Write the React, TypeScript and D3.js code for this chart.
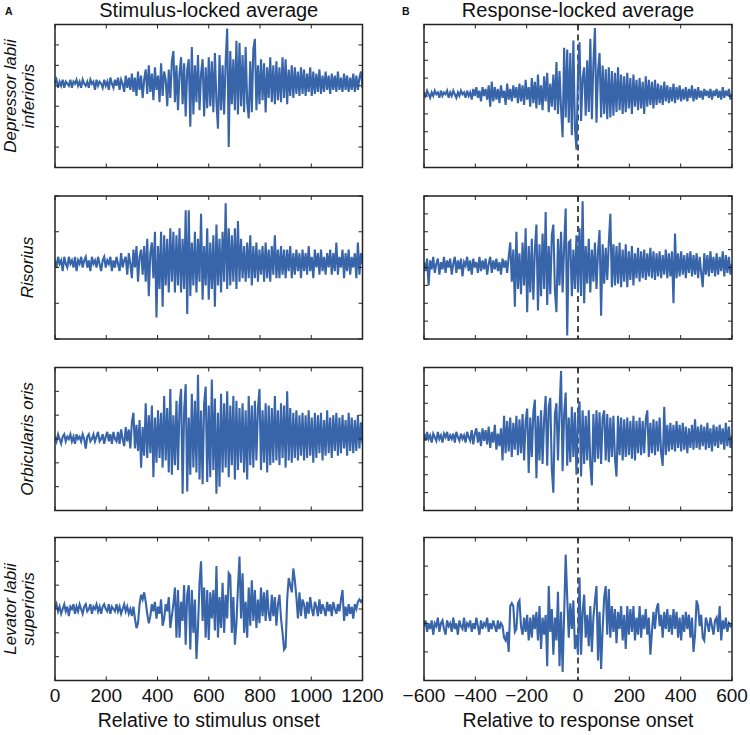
import React from "react";
import * as d3 from "d3";

// ---------- data ----------
const muscles = [["Depressor labii", "inferioris"], ["Risorius"], ["Orbicularis oris"], ["Levator labii", "superioris"]];
const columnTitles = ["Stimulus-locked average", "Response-locked average"];
const columnLetters = ["A", "B"];
const xTitles = ["Relative to stimulus onset", "Relative to response onset"];
const stimTicks = [0, 200, 400, 600, 800, 1000, 1200];
const respTicks = [-600, -400, -200, 0, 200, 400, 600];
const stimStart = 0;
const respStart = -600;
const sampleStep = 6;

// y domains (tick every 10 units)
const stimDomains = [[-40, 30], [-20, 20], [-30, 30], [-30, 30]];
const respDomains = [[-40, 40], [-40, 40], [-40, 40], [-20, 30]];

const stimDLI = [
  1,3,-1,2,0,3,-1,2,1,0, 3,-1,2,1,3,0,2,-1,3,1, 0,2,-1,3,1,2,-2,3,0,2, 1,-1,3,0,2,-2,4,1,-1,3,
  0,4,-2,3,1,-3,5,-1,4,-2, 6,-3,4,-5,7,-2,5,-6,3,8, -4,10,-3,6,-7,9,-2,5,-8,11, -5,7,3,-10,8,-6,12,17,-8,10,
  -12,6,14,-9,11,-15,8,13,-20,19, -14,10,-8,15,-12,6,13,-15,9,-11, 14,-10,12,-13,16,-8,-21,15,-12,10,
  -14,12,28,-30,17,-9,13,-12,22,-14, 21,-10,15,-13,19,-8,-16,12,-13,18, 23,-12,10,-9,13,-7,11,-13,9,-6,
  14,-8,10,-9,12,-7,9,-8,14,-6, 13,-9,8,-5,10,-6,9,-4,7,-5, 9,-4,8,-5,6,-3,9,-5,7,-4,
  6,-3,8,-4,5,-3,7,-2,5,-4, 6,-2,5,-3,7,-2,4,-3,6,-2, 5,-3,4,-2,6,-3,5,-2,4,7, -1,
];
const stimRis = [
  2,0,3,1,2,-1,3,1,0,3, 1,2,0,3,-1,2,1,3,0,2, 3,0,2,-1,3,1,2,0,3,1, -1,2,3,0,2,1,3,-1,2,0,
  3,1,-1,4,0,2,3,-2,4,1, -3,5,0,6,-4,3,5,-2,6,-4, 8,-8,4,7,-3,10,-14,6,-6,10, -11,9,-5,8,-7,11,-4,10,-7,9,
  -5,11,-7,8,-6,16,-13,16,-8,7, -5,10,-7,8,-4,15,-9,6,-5,11, -9,7,-6,9,-11,12,-5,8,-7,10,
  -4,18,-6,11,-5,9,-4,11,-6,13, -4,8,-3,6,-4,7,-3,9,-5,6, -3,7,-4,5,-2,6,-4,7,-3,5,
  -4,6,-2,9,-3,5,-3,6,-2,5, -3,5,-1,6,-3,4,-2,5,-1,4, -3,5,-1,4,-2,6,-1,3,-3,5,
  0,4,-2,5,-1,3,-2,4,0,5, -2,4,-1,7,-2,3,0,5,-3,4, -1,5,-2,3,0,4,-3,7,-2,4, 1,
];
const stimOO = [
  1,-1,2,0,-2,1,2,-1,1,0, 2,-1,1,-2,2,0,1,-1,2,0, -4,1,2,-1,0,2,-1,1,3,-1, 0,2,-2,1,3,-1,2,-2,3,0,
  -1,3,-2,4,0,-3,5,-1,4,-4, 7,11,-4,6,-5,8,-12,5,-7,15, -8,10,-6,14,-16,9,-10,12,-8,11, -12,18,-9,13,-14,21,-15,10,-11,16,
  -13,14,21,-23,12,23,-22,9,-15,19, -12,16,-14,27,-17,12,-19,15,22,-18, 14,-16,25,-13,17,-23,11,-20,19,-14,
  15,-12,20,-16,14,-11,18,-17,16,-13, 13,-10,15,-14,12,-17,18,-11,14,-12, 16,-9,13,21,-13,12,-10,15,-14,14,
  -11,13,-10,18,-9,12,-11,15,-8,14, -12,20,-9,13,-10,11,-8,12,-9,10, -7,11,-9,10,-8,12,-7,9,-10,11,
  -8,10,-6,11,-9,8,-7,12,-6,9, -8,10,-5,11,-7,9,-6,10,-4,8, -7,11,-5,9,-6,8,-5,10,-4,7, -2,
];
const stimLLS = [
  0,2,-1,1,-2,0,2,-1,1,-3, 1,0,2,-2,1,-1,2,0,-2,1, 2,-1,0,2,-2,1,0,2,-1,1, -2,1,2,0,-1,2,-2,1,0,-1,
  2,-1,1,-2,0,2,-1,1,-2,0, -3,1,-4,-8,-6,2,6,4,7,3, -2,-6,-3,2,-1,3,-4,1,-2,4, -7,-4,2,-1,5,-8,-3,2,9,-12,
  8,-12,3,-5,10,-15,6,10,-17,8, -10,4,-21,-8,11,20,-5,9,-12,8, -13,7,-4,8,-9,18,-12,5,-8,11,
  -10,6,-4,15,14,-10,5,-15,-6,9, 22,-4,15,-10,3,-12,9,-7,12,-5, 8,-8,4,-6,9,-3,7,-5,8,-2,
  -5,6,-3,5,-7,2,6,-4,-10,-17, -16,4,13,10,7,17,12,5,-4,7, -3,4,2,-4,3,-2,5,0,-3,3,
  1,-3,4,-2,2,0,-3,3,-1,2, -3,3,0,-2,2,-1,4,8,-5,1, -3,2,-2,1,-4,2,0,3,4,3, 4,
];

const respDLI = [
  2,0,3,1,-1,2,0,3,1,2, -1,3,0,2,1,3,-1,2,0,3, 1,-1,2,0,3,1,2,-1,3,0, 2,-2,4,0,5,-1,3,-3,5,0,
  4,-2,6,-6,8,-3,5,-2,4,-4, 6,-1,3,-5,7,-2,4,-3,6,-1, 5,-4,7,-3,6,-5,9,-2,5,-6, 10,-4,8,-7,12,-5,6,-8,11,-3,
  13,-9,7,-6,12,-8,19,-10,14,-7, -23,27,-12,26,-15,24,-22,31,-18,-30, 12,30,-14,10,16,-11,20,-9,32,-13,
  18,38,-15,14,24,-12,17,-10,15,-13, 16,-12,14,-11,13,-9,16,-8,12,-10, 11,-9,13,-7,10,-10,12,-6,9,-8,
  10,-7,8,-10,11,-6,9,-5,8,-7, 9,-5,7,-4,6,-5,8,-3,6,-4, 5,-3,7,-4,5,-2,6,-3,4,-2,
  5,-3,4,-1,6,-3,4,-2,5,-1, 3,-2,4,0,3,-1,4,-2,3,0, 4,-1,3,-2,5,-1,3,0,4,-2, 1,
];
const respRis = [
  3,-2,5,-10,4,-1,6,-3,2,5, -4,3,-1,6,-3,4,0,5,-4,2, 6,-3,4,-1,5,-5,3,1,6,-2, 4,-4,5,0,3,-3,6,-2,4,-1,
  5,-4,2,6,-3,4,-1,5,-2,3, -4,5,0,4,-3,6,14,-8,10,-22, 20,-12,8,-15,14,-10,22,-25,12,-14, 16,-18,10,24,-24,13,-16,19,-12,31,
  -21,12,-15,18,24,-13,-25,16,-10,20, -14,12,33,-38,14,15,-16,10,-12,18, -14,22,-16,37,-20,12,-9,16,-14,10,
  -8,14,-12,9,21,-27,13,-9,11,-7, 14,30,-11,13,-10,12,-9,14,-11,10, -8,13,-11,9,-7,12,-10,8,-6,11,
  -8,9,-6,10,-7,8,-5,11,-6,9, -7,8,-5,9,-6,7,-4,10,-6,8, -5,9,-20,19,-6,8,-5,9,-4,7,
  -6,8,-3,9,-5,7,-4,8,-6,6, -3,-11,8,-4,7,-5,9,-3,6,-5, 8,-4,6,-2,9,-5,7,-3,6,-4, 2,
];
const respOO = [
  3,-1,4,0,2,-2,3,1,-1,4, 0,2,-2,3,1,4,-1,2,0,3, -2,4,1,-1,3,0,2,-2,4,1, -1,5,-3,3,6,-2,4,-4,6,-1,
  5,-3,7,-5,4,-2,8,-6,3,-4, 6,-12,13,-8,10,-7,12,-10,9,-6, 13,-9,11,-8,14,-12,10,17,-19,12, -10,15,22,-22,13,-12,16,-14,11,24,
  -15,18,23,-17,-30,14,20,-12,16,38, -18,14,26,-15,12,-13,18,-10,15,-20, 12,21,-21,16,-14,13,-12,16,-15,-26,
  14,-13,16,-11,15,-14,12,16,-12,14, -13,12,-10,13,-11,-21,13,-9,12,-12, 11,-10,12,-9,10,-11,13,-12,10,-8,
  12,-9,10,-8,11,16,-10,9,-8,11, -9,10,-7,12,-8,-15,18,-9,8,-7, 9,-6,8,-7,10,-5,8,-7,9,-6,
  7,-8,6,-5,8,-6,11,-5,7,-6, 8,-4,7,-6,9,-5,6,-7,8,-4, 7,-5,8,-3,6,-6,9,-4,7,-5, 2,
];
const respLLS = [
  -1,1,-3,0,-2,1,-4,0,-1,2, -3,0,1,-2,-4,1,-1,0,-3,2, -2,0,-4,1,-1,-2,2,-3,0,-1, 1,-3,0,-2,2,-1,-4,1,-2,0,
  -1,2,-3,0,-2,1,-1,-3,1,-2, 0,-1,-5,-6,-3,-10,6,7,6,-3, -2,7,8,-1,-4,2,-3,3,-6,2, -5,3,-2,4,-6,6,-9,2,-4,3,
  -15,13,-3,5,-11,2,-6,11,-15,4, -17,3,24,9,-5,7,-2,8,-9,-4, -11,16,-11,4,10,-5,3,-8,6,-10,
  2,8,13,-13,4,-16,-2,9,13,-4, 12,-5,6,-3,5,-7,4,-2,6,-6, 3,-9,6,-4,5,-3,6,-6,2,-4,
  6,-5,3,-2,5,-4,2,-11,-3,4, -2,5,7,-1,3,-5,4,-2,5,-3, 3,-4,5,-2,4,-5,2,-6,3,-3,
  4,-2,3,-5,2,-10,-4,8,6,-1, 3,-5,-6,2,0,-3,2,-1,-4,1, 2,-3,6,-6,1,-2,2,-3,0,-1, 0,
];

const stimSeries = [stimDLI, stimRis, stimOO, stimLLS];
const respSeries = [respDLI, respRis, respOO, respLLS];

// ---------- layout ----------
const W = 750, H = 735;
const colX = [[55, 362.5], [424, 732]];
const rowTop = [24.5, 196, 367.5, 537.5];
const panelH = 143;
const lineColor = "#3865aa";
const font = "'Liberation Sans', Arial, Helvetica, sans-serif";
const tickLen = 4;

function fmt(v: number) {
  return v < 0 ? "\u2212" + Math.abs(v) : String(v);
}

function Panel({ col, row }: { col: number; row: number }) {
  const values = col === 0 ? stimSeries[row] : respSeries[row];
  const domain = col === 0 ? stimDomains[row] : respDomains[row];
  const xTicks = col === 0 ? stimTicks : respTicks;
  const start = col === 0 ? stimStart : respStart;
  const [x0, x1] = colX[col];
  const top = rowTop[row];
  const bottom = top + panelH;
  const x = d3.scaleLinear().domain([xTicks[0], xTicks[xTicks.length - 1]]).range([x0, x1]);
  const y = d3.scaleLinear().domain(domain).range([bottom, top]);
  const yTicks = d3.range(domain[0], domain[1] + 1, 10);
  const line = d3
    .line<number>()
    .x((_, i) => x(start + i * sampleStep))
    .y((v) => y(v));
  const clipId = `clip-${col}-${row}`;
  const isLast = row === 3;
  return (
    <g>
      <defs>
        <clipPath id={clipId}>
          <rect x={x0} y={top} width={x1 - x0} height={panelH} />
        </clipPath>
      </defs>
      {col === 1 && (
        <line x1={x(0)} x2={x(0)} y1={top} y2={bottom} stroke="#111" strokeWidth={1.5} strokeDasharray="6,4" />
      )}
      <path d={line(values) || ""} fill="none" stroke={lineColor} strokeWidth={2.1} strokeLinejoin="miter" clipPath={`url(#${clipId})`} />
      {yTicks.map((t) => (
        <g key={"y" + t}>
          <line x1={x0} x2={x0 + tickLen} y1={y(t)} y2={y(t)} stroke="#222" strokeWidth={1} />
          <line x1={x1} x2={x1 - tickLen} y1={y(t)} y2={y(t)} stroke="#222" strokeWidth={1} />
        </g>
      ))}
      {xTicks.map((t) => (
        <g key={"x" + t}>
          <line x1={x(t)} x2={x(t)} y1={top} y2={top + tickLen} stroke="#222" strokeWidth={1} />
          <line x1={x(t)} x2={x(t)} y1={bottom} y2={bottom - tickLen} stroke="#222" strokeWidth={1} />
        </g>
      ))}
      <rect x={x0} y={top} width={x1 - x0} height={panelH} fill="none" stroke="#222" strokeWidth={1.5} />
      {isLast &&
        xTicks.map((t) => (
          <text key={"l" + t} x={x(t)} y={702} textAnchor="middle" fontSize={19} fontFamily={font} fill="#111">
            {fmt(t)}
          </text>
        ))}
    </g>
  );
}

export default function App() {
  return (
    <svg width={W} height={H} style={{ position: "absolute", left: 0, top: 0, background: "#fff" }}>
      <rect width={W} height={H} fill="#fff" />
      {[0, 1].map((col) => (
        <g key={col}>
          <text x={(colX[col][0] + colX[col][1]) / 2} y={17} textAnchor="middle" fontSize={20} fontFamily={font} fill="#111">
            {columnTitles[col]}
          </text>
          <text x={col === 0 ? 5 : 402} y={15} fontSize={10.5} fontWeight="bold" fontFamily={font} fill="#111">
            {columnLetters[col]}
          </text>
          <text x={(colX[col][0] + colX[col][1]) / 2} y={727} textAnchor="middle" fontSize={19.5} fontFamily={font} fill="#111">
            {xTitles[col]}
          </text>
          {[0, 1, 2, 3].map((row) => (
            <Panel key={row} col={col} row={row} />
          ))}
        </g>
      ))}
      {muscles.map((lines, row) => {
        const cy = rowTop[row] + panelH / 2;
        return (
          <g key={"m" + row}>
            {lines.map((s, k) => {
              const bx = lines.length === 1 ? 33 : k === 0 ? 16 : 34;
              return (
                <text
                  key={k}
                  transform={`translate(${bx},${cy}) rotate(-90)`}
                  textAnchor="middle"
                  fontSize={17}
                  fontStyle="italic"
                  fontFamily={font}
                  fill="#111"
                >
                  {s}
                </text>
              );
            })}
          </g>
        );
      })}
    </svg>
  );
}
